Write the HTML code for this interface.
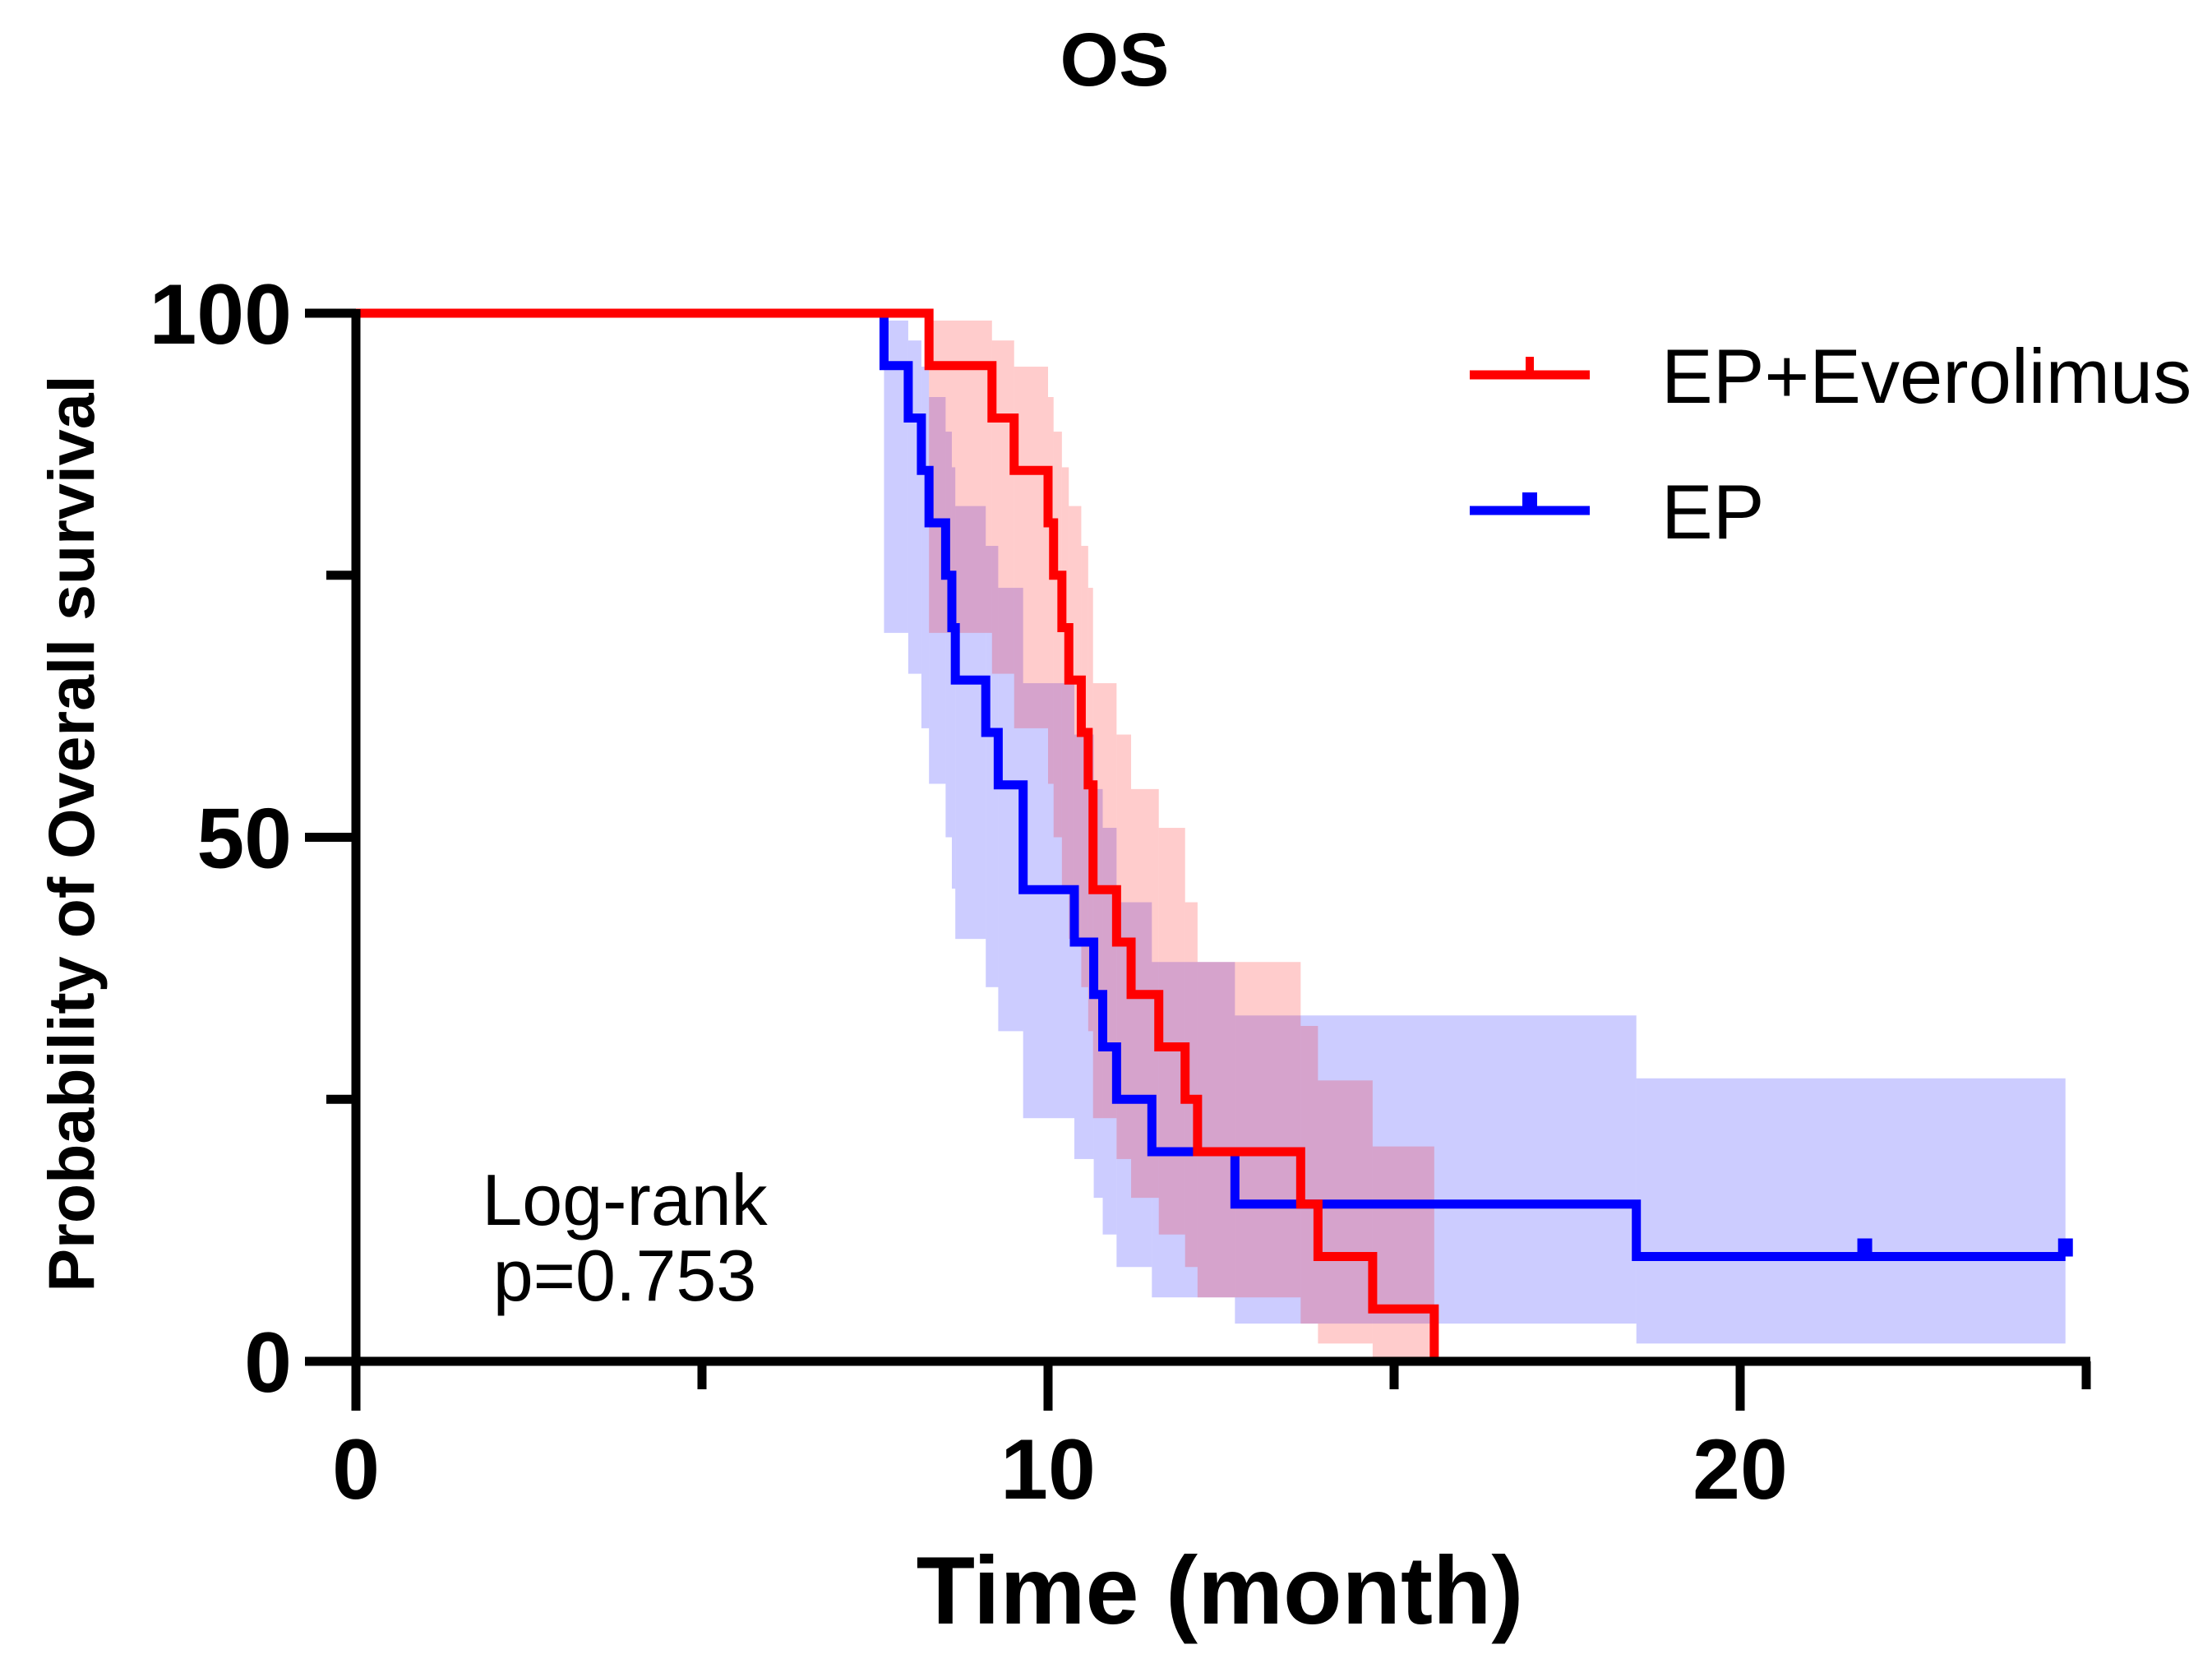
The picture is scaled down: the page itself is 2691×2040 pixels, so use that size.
<!DOCTYPE html>
<html><head><meta charset="utf-8"><style>
html,body{margin:0;padding:0;background:#fff;}
svg{display:block;font-family:"Liberation Sans",Arial,sans-serif;}
</style></head><body>
<svg id="chart" width="2691" height="2040" viewBox="0 0 2691 2040" xmlns="http://www.w3.org/2000/svg">
<rect width="2691" height="2040" fill="#fff"/>
<text x="1356" y="104" text-anchor="middle" font-size="92" font-weight="bold">OS</text>
<g id="bands"></g>
<g id="lines"></g>
<g id="axes"></g>
<text x="1484" y="1975" text-anchor="middle" font-size="117" font-weight="bold">Time (month)</text>
<text transform="translate(114,1014) rotate(-90)" text-anchor="middle" font-size="79" font-weight="bold">Probability of Overall survival</text>
<text x="760" y="1490" text-anchor="middle" font-size="88">Log-rank</text>
<text x="760" y="1582" text-anchor="middle" font-size="88">p=0.753</text>
<g>
<g>
<line x1="1788" y1="456" x2="1934" y2="456" stroke="#ff0000" stroke-width="11"/>
<line x1="1861" y1="456" x2="1861" y2="434" stroke="#ff0000" stroke-width="10"/>
<text x="2021" y="490" font-size="94">EP+Everolimus</text>
</g>
<g>
<line x1="1788" y1="621" x2="1934" y2="621" stroke="#0000ff" stroke-width="11"/>
<rect x="1852" y="599" width="18" height="22" fill="#0000ff"/>
<text x="2021" y="655" font-size="94">EP</text>
</g>
</g>
</svg>
<script>
const redTimes = [8.28, 9.19, 9.51, 10.0, 10.08, 10.2, 10.3, 10.48, 10.58, 10.65, 10.99, 11.2, 11.6, 11.98, 12.16, 13.65, 13.9, 14.69, 15.58];
const redSurv = [95, 90, 85, 80, 75, 70, 65, 60, 55, 45, 40, 35, 30, 25, 20, 15, 10, 5, 0];
const redLow = [69.5, 65.6, 60.4, 55.1, 50.0, 45.1, 40.3, 35.7, 31.5, 23.2, 19.3, 15.6, 12.1, 9.0, 6.1, 3.6, 1.7, 0.4, 0];
const redUp = [99.3, 97.4, 94.9, 92.0, 88.7, 85.3, 81.6, 77.8, 73.8, 64.7, 59.8, 54.6, 50.9, 43.8, 38.1, 32.0, 26.8, 20.5, 0];
const blueTimes = [7.63, 7.98, 8.17, 8.28, 8.52, 8.61, 8.66, 9.1, 9.28, 9.64, 10.38, 10.66, 10.79, 10.99, 11.5, 12.7, 18.5];
const blueSurv = [95, 90, 85, 80, 75, 70, 65, 60, 55, 45, 40, 35, 30, 25, 20, 15, 10];
const blueLow = [69.5, 65.6, 60.4, 55.1, 50.0, 45.1, 40.3, 35.7, 31.5, 23.2, 19.3, 15.6, 12.1, 9.0, 6.1, 3.6, 1.7];
const blueUp = [99.3, 97.4, 94.9, 92.0, 88.7, 85.3, 81.6, 77.8, 73.8, 64.7, 59.8, 54.6, 50.9, 43.8, 38.1, 33.0, 27.0];
const blueEnd = 24.7;
const blueCensor = [21.8, 24.7];
const xTicks = [0, 10, 20];
const xMinor = [5, 15, 25];
const yTicks = [0, 50, 100];
const yMinor = [25, 75];

const NS = "http://www.w3.org/2000/svg";
const X0 = 433, PXM = 84.2, Y0 = 1656, Y100 = 381;
function sx(t){ return X0 + t * PXM; }
function sy(v){ return Y0 - v * (Y0 - Y100) / 100; }
function mk(tag, attrs, parent){
  const e = document.createElementNS(NS, tag);
  for (const k in attrs) e.setAttribute(k, attrs[k]);
  parent.appendChild(e);
  return e;
}
const bands = document.getElementById('bands');
const lines = document.getElementById('lines');
const axes = document.getElementById('axes');

function drawBand(times, low, up, end, color, name){
  for (let i = 0; i < times.length; i++){
    const t1 = times[i];
    const t2 = i + 1 < times.length ? times[i+1] : end;
    if (t2 <= t1) continue;
    const r = mk('rect', {x: sx(t1), y: sy(up[i]), width: sx(t2) - sx(t1), height: sy(low[i]) - sy(up[i]), fill: color}, bands);
    
    
  }
}
function drawCurve(times, surv, end, color, name){
  let d = 'M' + sx(0) + ' ' + sy(100);
  for (let i = 0; i < times.length; i++){
    d += ' H' + sx(times[i]) + ' V' + sy(surv[i]);
  }
  d += ' H' + sx(end);
  const p = mk('path', {d: d, fill: 'none', stroke: color, 'stroke-width': 11, 'stroke-linejoin': 'miter'}, lines);
  
  
}
drawBand(blueTimes, blueLow, blueUp, blueEnd, 'rgba(0,0,255,0.2)', 'ep');
drawBand(redTimes, redLow, redUp, redTimes[redTimes.length-1], 'rgba(255,0,0,0.2)', 'ep-everolimus');
drawCurve(blueTimes, blueSurv, blueEnd, '#0000ff', 'ep');
drawCurve(redTimes, redSurv, redTimes[redTimes.length-1], '#ff0000', 'ep-everolimus');
const lastBlue = blueSurv[blueSurv.length-1];
blueCensor.forEach(function(t){
  const c = mk('rect', {x: sx(t) - 9, y: sy(lastBlue) - 22, width: 18, height: 22, fill: '#0000ff'}, lines);
  
  
});

const ya = mk('line', {x1: X0, y1: Y100 - 5, x2: X0, y2: Y0 + 5, stroke: '#000', 'stroke-width': 11}, axes);


const xa = mk('line', {x1: X0 - 5, y1: Y0, x2: sx(25) + 5, y2: Y0, stroke: '#000', 'stroke-width': 11}, axes);


xTicks.forEach(function(t){
  const l = mk('line', {x1: sx(t), y1: Y0, x2: sx(t), y2: Y0 + 60, stroke: '#000', 'stroke-width': 11}, axes);
  
  
  const tx = mk('text', {x: sx(t), y: Y0 + 167, 'text-anchor': 'middle', 'font-size': 104, 'font-weight': 'bold'}, axes);
  tx.textContent = t;
  
  
});
xMinor.forEach(function(t){
  const l = mk('line', {x1: sx(t), y1: Y0, x2: sx(t), y2: Y0 + 34, stroke: '#000', 'stroke-width': 11}, axes);
  
  
});
yTicks.forEach(function(v){
  const l = mk('line', {x1: X0 - 62, y1: sy(v), x2: X0, y2: sy(v), stroke: '#000', 'stroke-width': 11}, axes);
  
  
  const tx = mk('text', {x: X0 - 78, y: sy(v) + 37, 'text-anchor': 'end', 'font-size': 104, 'font-weight': 'bold'}, axes);
  tx.textContent = v;
  
  
});
yMinor.forEach(function(v){
  const l = mk('line', {x1: X0 - 36, y1: sy(v), x2: X0, y2: sy(v), stroke: '#000', 'stroke-width': 11}, axes);
  
  
});
</script>
</body></html>
